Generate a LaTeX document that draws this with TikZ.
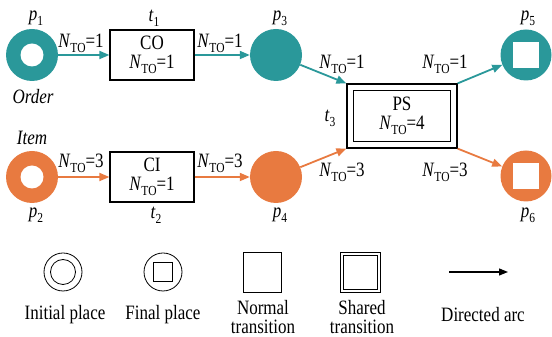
\documentclass[tikz,border=0pt]{standalone}
\usepackage{graphicx}
\usepackage{fontspec}
\setmainfont{Liberation Serif}
\usetikzlibrary{arrows.meta}
\definecolor{tealc}{RGB}{42,152,154}
\definecolor{orngc}{RGB}{232,122,64}
\newcommand{\vs}[1]{\scalebox{1}[1.2]{#1}}
\newcommand{\NTO}[1]{\vs{\textit{N}\raisebox{-0.5ex}{\fontsize{11.5}{11}\selectfont TO}=#1}}
\newcommand{\plbl}[2]{\vs{\textit{#1}\raisebox{-0.5ex}{\fontsize{11.5}{11}\selectfont #2}}}
\begin{document}
\begin{tikzpicture}[x=1pt,y=1pt,font=\fontsize{17}{19}\selectfont,
  arcT/.style={line width=1.8pt,-{Triangle[length=10pt,width=8pt]}},
  trans/.style={draw,line width=1.2pt,minimum width=84pt,minimum height=50pt,inner sep=0pt,align=center},
  place/.style={circle,minimum size=52pt,inner sep=0pt},
  hole/.style={circle,fill=white,minimum size=23pt,inner sep=0pt},
  sqhole/.style={fill=white,minimum size=26pt,inner sep=0pt},
  lgd/.style={draw,line width=0.8pt,inner sep=0pt},
  txt/.style={inner sep=0pt,align=center}]
\useasboundingbox (0,0) rectangle (552,337);
% places and transitions
\node[place,fill=tealc] (p1) at (32,282) {};
\node[hole] (p1h) at (p1) {};
\node[trans] (t1) at (152,282) {\vs{CO}\\[0pt]\NTO{1}};
\node[place,fill=tealc] (p3) at (276,282) {};
\node[draw,line width=1.2pt,minimum width=110pt,minimum height=64pt,inner sep=0pt] (t3) at (402,221) {};
\node[draw,line width=1.2pt,minimum width=97pt,minimum height=51pt,inner sep=0pt,align=center] (t3i) at (402,221) {\vs{PS}\\[0pt]\NTO{4}};
\node[place,fill=tealc,minimum size=51pt] (p5) at (526,282) {};
\node[sqhole] (p5h) at (p5) {};
\node[place,fill=orngc] (p2) at (32,160) {};
\node[hole] (p2h) at (p2) {};
\node[trans] (t2) at (152,160) {\vs{CI}\\[0pt]\NTO{1}};
\node[place,fill=orngc] (p4) at (276,160) {};
\node[place,fill=orngc,minimum size=51pt] (p6) at (526,161) {};
\node[sqhole] (p6h) at (p6) {};
% labels
\node[txt] (lp1) at (36,319) {\plbl{p}{1}};
\node[txt] (lt1) at (154,319) {\plbl{t}{1}};
\node[txt] (lp3) at (280,319) {\plbl{p}{3}};
\node[txt] (lp5) at (528,319) {\plbl{p}{5}};
\node[txt] (lt3) at (330,219) {\plbl{t}{3}};
\node[txt] (lord) at (33,240) {\vs{\textit{Order}}};
\node[txt] (litem) at (32,199) {\vs{\textit{Item}}};
\node[txt] (lp2) at (36,122) {\plbl{p}{2}};
\node[txt] (lt2) at (156,122) {\plbl{t}{2}};
\node[txt] (lp4) at (280,122) {\plbl{p}{4}};
\node[txt] (lp6) at (528,122) {\plbl{p}{6}};
% arcs
\draw[arcT,tealc] (p1) -- (t1.west);
\draw[arcT,tealc] (t1.east) -- (p3);
\draw[arcT,tealc] (p3) -- (t3.north west);
\draw[arcT,tealc] (t3.north east) -- (p5);
\draw[arcT,orngc] (p2) -- (t2.west);
\draw[arcT,orngc] (t2.east) -- (p4);
\draw[arcT,orngc] (p4) -- (t3.south west);
\draw[arcT,orngc] (t3.south east) -- (p6);
% arc labels
\node[txt] (a1) at (81,294) {\NTO{1}};
\node[txt] (a2) at (220,294) {\NTO{1}};
\node[txt] (a3) at (342,273) {\NTO{1}};
\node[txt] (a4) at (445,273) {\NTO{1}};
\node[txt] (a5) at (81,174) {\NTO{3}};
\node[txt] (a6) at (220,174) {\NTO{3}};
\node[txt] (a7) at (342,165) {\NTO{3}};
\node[txt] (a8) at (445,165) {\NTO{3}};
% legend
\node[lgd,circle,minimum size=38pt] (li) at (63,65) {};
\node[lgd,circle,minimum size=25pt] (lii) at (63,65) {};
\node[lgd,circle,minimum size=38pt] (lf) at (163,65) {};
\node[lgd,minimum size=19pt] (lfi) at (163,65) {};
\node[lgd,minimum width=38pt,minimum height=40pt] (ln) at (262,65) {};
\node[lgd,minimum width=40pt,minimum height=40pt] (ls) at (360,65) {};
\node[lgd,minimum width=34pt,minimum height=34pt] (lsi) at (360,65) {};
\coordinate (da) at (449,65);
\coordinate (db) at (508,65);
\draw[line width=1.2pt,-{Triangle[length=9pt,width=7pt]}] (da) -- (db);
\node[txt] (tli) at (65,22) {\vs{Initial place}};
\node[txt] (tlf) at (163,22) {\vs{Final place}};
\node[txt] (tln) at (263,29) {\vs{Normal}};
\node[txt] (tln2) at (263,10) {\vs{transition}};
\node[txt] (tls) at (362,29) {\vs{Shared}};
\node[txt] (tls2) at (362,10) {\vs{transition}};
\node[txt] (tld) at (483,22) {\vs{Directed arc}};
\end{tikzpicture}
\end{document}
